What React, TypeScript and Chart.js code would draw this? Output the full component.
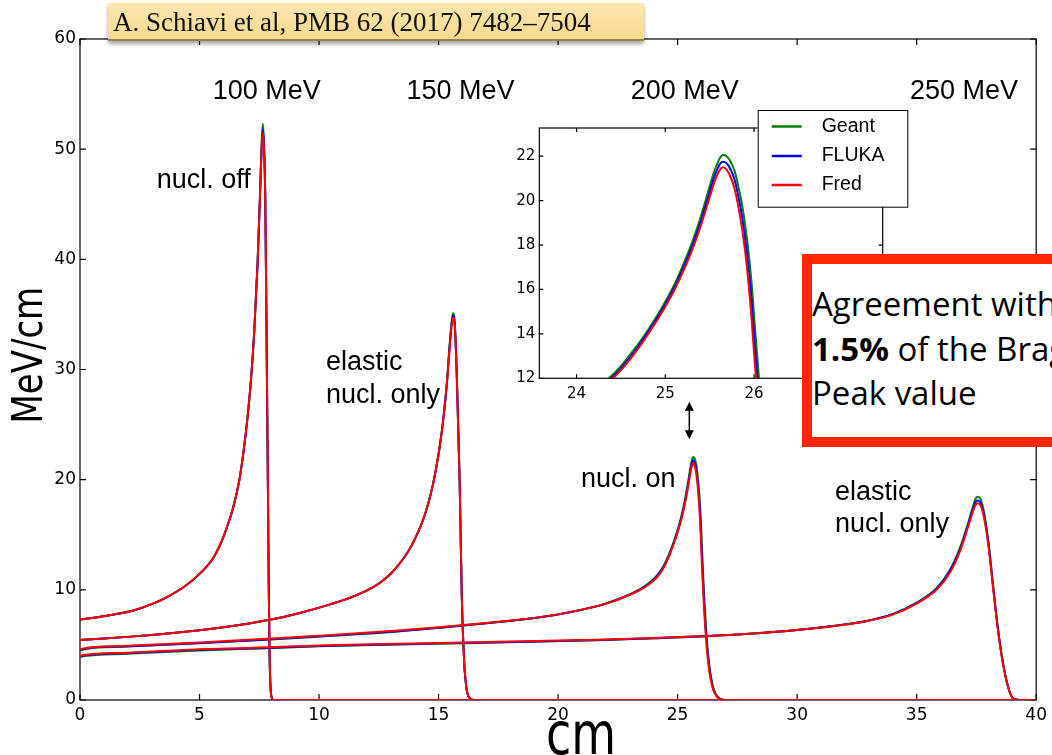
import React, { useEffect, useRef } from "react";
import { Chart, registerables } from "chart.js";

Chart.register(...registerables);

// ---------------- data ----------------
const MODELS = ["Geant", "FLUKA", "Fred"];
const MODEL_COLORS = ["#008000", "#0000FF", "#FF0000"];

const X_TICKS = [0, 5, 10, 15, 20, 25, 30, 35, 40];
const Y_TICKS = [0, 10, 20, 30, 40, 50, 60];
const INSET_X_TICKS = [24, 25, 26, 27];
const INSET_Y_TICKS = [12, 14, 16, 18, 20, 22];

// 100 MeV, nuclear interactions off
const DEPTH_100 = [0, 0.5, 1, 1.5, 2.2, 3, 3.6, 4.4, 5.1, 5.56, 5.8, 6.0, 6.4, 6.67, 6.85, 7.01, 7.15, 7.29, 7.43, 7.53, 7.6, 7.65, 7.7, 7.75, 7.8, 7.85, 7.89, 7.93, 7.97, 8.02, 8.1, 40];
const FRED_100 = [7.3, 7.44, 7.6, 7.8, 8.1, 8.7, 9.3, 10.35, 11.65, 12.85, 13.8, 14.8, 17.4, 20.0, 22.7, 25.7, 29.0, 33.5, 39.7, 45.7, 50.1, 51.5, 49.8, 45.5, 34.2, 22.1, 11.5, 4.2, 1.2, 0.2, 0, 0];
const FLUKA_100 = [7.3, 7.44, 7.6, 7.8, 8.1, 8.7, 9.3, 10.35, 11.65, 12.85, 13.8, 14.8, 17.4, 20.0, 22.7, 25.7, 29.0, 33.5, 39.7, 45.8, 50.3, 51.8, 50.0, 45.6, 34.2, 22.1, 11.5, 4.2, 1.2, 0.2, 0, 0];
const GEANT_100 = [7.3, 7.44, 7.6, 7.8, 8.1, 8.7, 9.3, 10.35, 11.65, 12.85, 13.8, 14.8, 17.4, 20.0, 22.7, 25.7, 29.0, 33.5, 39.8, 46.0, 50.7, 52.3, 50.4, 45.8, 34.3, 22.2, 11.6, 4.2, 1.2, 0.2, 0, 0];

// 150 MeV, elastic nuclear only
const DEPTH_150 = [0, 1, 2, 3, 4, 5, 6, 7, 8, 9.2, 10.5, 11.5, 12.3, 12.7, 13.06, 13.5, 13.89, 14.44, 14.86, 15.14, 15.35, 15.49, 15.6, 15.68, 15.76, 15.88, 15.97, 16.07, 16.18, 16.32, 16.5, 40];
const FRED_150 = [5.45, 5.58, 5.73, 5.9, 6.1, 6.33, 6.6, 6.92, 7.3, 7.9, 8.7, 9.45, 10.3, 10.9, 11.6, 12.75, 14.1, 16.9, 20.55, 24.4, 28.8, 32.6, 34.7, 33.8, 29.5, 20.0, 9.5, 3.5, 0.9, 0.15, 0, 0];
const FLUKA_150 = [5.45, 5.58, 5.73, 5.9, 6.1, 6.33, 6.6, 6.92, 7.3, 7.9, 8.7, 9.45, 10.3, 10.9, 11.6, 12.75, 14.1, 16.9, 20.55, 24.4, 28.8, 32.8, 34.9, 34.0, 29.6, 20.0, 9.5, 3.5, 0.9, 0.15, 0, 0];
const GEANT_150 = [5.45, 5.58, 5.73, 5.9, 6.1, 6.33, 6.6, 6.92, 7.3, 7.9, 8.7, 9.45, 10.3, 10.9, 11.6, 12.75, 14.1, 16.9, 20.6, 24.5, 28.9, 33.0, 35.1, 34.2, 29.8, 20.1, 9.6, 3.5, 0.9, 0.15, 0, 0];

// 200 MeV, nuclear interactions on (also shown in the inset)
const DEPTH_200 = [0, 0.3, 2, 5, 7.8, 10, 13.3, 15, 17, 19.17, 20.56, 21.94, 23.06, 23.6, 24.0, 24.2, 24.39, 24.5, 24.6, 24.71, 24.85, 24.99, 25.1, 25.2, 25.3, 25.39, 25.45, 25.5, 25.55, 25.59, 25.62, 25.65, 25.69, 25.73, 25.78, 25.82, 25.87, 25.92, 25.97, 26.01, 26.06, 26.11, 26.18, 26.25, 26.32, 26.39, 26.53, 26.74, 27.0, 40];
const FRED_200 = [4.6, 4.75, 4.92, 5.22, 5.55, 5.83, 6.3, 6.6, 7.0, 7.5, 8.0, 8.7, 9.6, 10.2, 10.85, 11.3, 11.92, 12.37, 12.84, 13.42, 14.25, 15.15, 15.95, 16.8, 17.75, 18.75, 19.5, 20.15, 20.8, 21.2, 21.42, 21.5, 21.4, 21.12, 20.55, 19.8, 18.6, 17.0, 14.8, 12.6, 10.2, 8.1, 5.8, 4.0, 2.7, 1.8, 0.7, 0.12, 0, 0];
const FLUKA_200 = [4.55, 4.7, 4.88, 5.17, 5.5, 5.78, 6.25, 6.56, 6.97, 7.48, 7.99, 8.7, 9.62, 10.24, 10.92, 11.4, 12.0, 12.45, 12.93, 13.52, 14.35, 15.26, 16.07, 16.95, 17.92, 18.95, 19.72, 20.4, 21.05, 21.45, 21.68, 21.75, 21.68, 21.45, 20.95, 20.25, 19.15, 17.65, 15.6, 13.4, 11.0, 8.8, 6.3, 4.4, 3.0, 2.0, 0.78, 0.13, 0, 0];
const GEANT_200 = [4.5, 4.66, 4.85, 5.14, 5.47, 5.75, 6.22, 6.54, 6.96, 7.48, 8.0, 8.72, 9.66, 10.3, 11.0, 11.5, 12.1, 12.55, 13.05, 13.62, 14.45, 15.38, 16.2, 17.1, 18.1, 19.15, 19.95, 20.65, 21.3, 21.7, 21.95, 22.05, 22.0, 21.8, 21.35, 20.7, 19.7, 18.3, 16.4, 14.3, 11.8, 9.5, 6.9, 4.8, 3.3, 2.2, 0.85, 0.15, 0, 0];

// 250 MeV, elastic nuclear only
const DEPTH_250 = [0, 0.2, 2, 5, 7.8, 10, 13.3, 15, 17, 19.17, 21.67, 24, 26.25, 28, 30, 31.5, 32.8, 34, 35, 35.83, 36.39, 36.81, 37.15, 37.36, 37.45, 37.54, 37.66, 37.78, 37.99, 38.19, 38.4, 38.61, 38.82, 39.03, 39.3, 40];
const FRED_250 = [4.0, 4.1, 4.3, 4.6, 4.78, 4.95, 5.1, 5.18, 5.27, 5.36, 5.48, 5.63, 5.81, 6.02, 6.35, 6.7, 7.1, 7.75, 8.75, 10.0, 11.55, 13.5, 15.7, 17.15, 17.65, 17.85, 17.7, 16.95, 14.2, 10.3, 6.35, 3.3, 1.2, 0.15, 0, 0];
const FLUKA_250 = [3.95, 4.05, 4.25, 4.55, 4.73, 4.9, 5.06, 5.14, 5.23, 5.32, 5.45, 5.61, 5.8, 6.02, 6.36, 6.72, 7.13, 7.8, 8.82, 10.1, 11.7, 13.65, 15.9, 17.4, 17.9, 18.1, 17.95, 17.2, 14.4, 10.45, 6.45, 3.35, 1.22, 0.15, 0, 0];
const GEANT_250 = [3.9, 4.0, 4.2, 4.5, 4.7, 4.87, 5.03, 5.11, 5.2, 5.3, 5.43, 5.6, 5.79, 6.01, 6.36, 6.72, 7.13, 7.8, 8.83, 10.15, 11.8, 13.8, 16.05, 17.6, 18.2, 18.45, 18.3, 17.45, 14.6, 10.6, 6.5, 3.4, 1.25, 0.15, 0, 0];

const CURVES = [
  { depth: DEPTH_100, values: [GEANT_100, FLUKA_100, FRED_100] },
  { depth: DEPTH_150, values: [GEANT_150, FLUKA_150, FRED_150] },
  { depth: DEPTH_200, values: [GEANT_200, FLUKA_200, FRED_200] },
  { depth: DEPTH_250, values: [GEANT_250, FLUKA_250, FRED_250] },
];
const INSET_CURVE = CURVES[2];

// annotations (data coordinates of the main axes)
const TEXT_NOTES = [
  { text: "100 MeV", x: 7.81, y: 54.55, align: "center" },
  { text: "150 MeV", x: 15.92, y: 54.55, align: "center" },
  { text: "200 MeV", x: 25.3, y: 54.55, align: "center" },
  { text: "250 MeV", x: 36.98, y: 54.55, align: "center" },
  { text: "nucl. off", x: 3.21, y: 46.45, align: "left" },
  { text: "elastic", x: 10.29, y: 29.95, align: "left" },
  { text: "nucl. only", x: 10.29, y: 27.0, align: "left" },
  { text: "nucl. on", x: 20.96, y: 19.33, align: "left" },
  { text: "elastic", x: 31.58, y: 18.15, align: "left" },
  { text: "nucl. only", x: 31.58, y: 15.25, align: "left" },
];
const ARROW = { x: 25.49, y1: 27.08, y2: 23.67 };
const X_TITLE = { text: "cm", x: 20.96 };
const Y_TITLE = { text: "MeV/cm", y: 31.3 };

// ---------------- helpers ----------------
function buildDatasets(curves: any[], width: number) {
  const out: any[] = [];
  curves.forEach((c) => {
    MODELS.forEach((m, mi) => {
      out.push({
        label: m,
        data: c.depth.map((x: number, i: number) => ({ x, y: c.values[mi][i] })),
        borderColor: MODEL_COLORS[mi],
        backgroundColor: MODEL_COLORS[mi],
        borderWidth: width,
        pointRadius: 0,
        fill: false,
        cubicInterpolationMode: "monotone",
        order: MODELS.length - 1 - mi,
      });
    });
  });
  return out;
}

function makeFramePlugin(id: string, xTicks: number[], yTicks: number[], tickLen: number, lw: number, fillBg: boolean) {
  return {
    id,
    beforeDatasetsDraw(chart: any) {
      const { ctx, chartArea: a, scales } = chart;
      ctx.save();
      if (fillBg) {
        ctx.fillStyle = "#fff";
        ctx.fillRect(a.left, a.top, a.right - a.left, a.bottom - a.top);
      }
      ctx.strokeStyle = "#000";
      ctx.lineWidth = lw;
      ctx.beginPath();
      xTicks.forEach((v) => {
        const p = scales.x.getPixelForValue(v);
        if (p < a.left - 0.5 || p > a.right + 0.5) return;
        ctx.moveTo(p, a.bottom);
        ctx.lineTo(p, a.bottom - tickLen);
        ctx.moveTo(p, a.top);
        ctx.lineTo(p, a.top + tickLen);
      });
      yTicks.forEach((v) => {
        const p = scales.y.getPixelForValue(v);
        if (p < a.top - 0.5 || p > a.bottom + 0.5) return;
        ctx.moveTo(a.left, p);
        ctx.lineTo(a.left + tickLen, p);
        ctx.moveTo(a.right, p);
        ctx.lineTo(a.right - tickLen, p);
      });
      ctx.stroke();
      ctx.strokeRect(a.left, a.top, a.right - a.left, a.bottom - a.top);
      ctx.restore();
    },
  };
}

const annotationPlugin = {
  id: "notes",
  afterDraw(chart: any) {
    const { ctx, scales, chartArea } = chart;
    const xs = scales.x;
    const ys = scales.y;
    ctx.save();
    ctx.fillStyle = "#000";
    ctx.font = '27px "Liberation Sans", Arial, sans-serif';
    ctx.textBaseline = "alphabetic";
    TEXT_NOTES.forEach((n) => {
      ctx.textAlign = n.align;
      ctx.fillText(n.text, xs.getPixelForValue(n.x), ys.getPixelForValue(n.y));
    });

    // axis titles (slightly stretched vertically like the reference)
    ctx.font = '46px "DejaVu Sans", sans-serif';
    ctx.textAlign = "center";
    ctx.save();
    ctx.translate(xs.getPixelForValue(X_TITLE.x), chart.height - 1);
    ctx.scale(1, 1.28);
    ctx.fillText(X_TITLE.text, 0, 0);
    ctx.restore();

    ctx.font = '34px "DejaVu Sans", sans-serif';
    ctx.save();
    ctx.translate(chartArea.left - 38, ys.getPixelForValue(Y_TITLE.y));
    ctx.rotate(-Math.PI / 2);
    ctx.scale(1, 1.25);
    ctx.fillText(Y_TITLE.text, 0, 0);
    ctx.restore();

    // double-headed arrow
    const ax = xs.getPixelForValue(ARROW.x);
    const top = ys.getPixelForValue(ARROW.y1);
    const bot = ys.getPixelForValue(ARROW.y2);
    ctx.strokeStyle = "#000";
    ctx.lineWidth = 1.5;
    ctx.beginPath();
    ctx.moveTo(ax, top + 6);
    ctx.lineTo(ax, bot - 6);
    ctx.stroke();
    ctx.beginPath();
    ctx.moveTo(ax, top);
    ctx.lineTo(ax - 4.5, top + 9);
    ctx.lineTo(ax + 4.5, top + 9);
    ctx.closePath();
    ctx.moveTo(ax, bot);
    ctx.lineTo(ax - 4.5, bot - 9);
    ctx.lineTo(ax + 4.5, bot - 9);
    ctx.closePath();
    ctx.fill();
    ctx.restore();
  },
};

const LEGEND_BOX = { x: 277.7, y: 10, w: 149.6, h: 96.7 };
const LEGEND_ROWS = [26.5, 56, 85];

const insetLegendPlugin = {
  id: "insetLegend",
  afterDraw(chart: any) {
    const ctx = chart.ctx;
    const b = LEGEND_BOX;
    ctx.save();
    ctx.fillStyle = "#fff";
    ctx.fillRect(b.x, b.y, b.w, b.h);
    ctx.strokeStyle = "#000";
    ctx.lineWidth = 1;
    ctx.strokeRect(b.x + 0.5, b.y + 0.5, b.w, b.h);
    MODELS.forEach((m, i) => {
      const yy = LEGEND_ROWS[i];
      ctx.strokeStyle = MODEL_COLORS[i];
      ctx.lineWidth = 2.5;
      ctx.beginPath();
      ctx.moveTo(b.x + 14, yy);
      ctx.lineTo(b.x + 44, yy);
      ctx.stroke();
      ctx.fillStyle = "#000";
      ctx.font = '19.5px "Liberation Sans", Arial, sans-serif';
      ctx.textAlign = "left";
      ctx.textBaseline = "middle";
      ctx.fillText(m, b.x + 64, yy);
    });
    ctx.restore();
  },
};

export default function App() {
  const mainRef = useRef<HTMLCanvasElement | null>(null);
  const insetRef = useRef<HTMLCanvasElement | null>(null);

  useEffect(() => {
    const main = new Chart(mainRef.current as HTMLCanvasElement, {
      type: "line",
      data: { datasets: buildDatasets(CURVES, 2) },
      options: {
        responsive: false,
        animation: false,
        devicePixelRatio: 1,
        layout: { padding: { left: 0, top: 39, right: 12, bottom: 0 } },
        plugins: { legend: { display: false }, tooltip: { enabled: false } },
        scales: {
          x: {
            type: "linear",
            min: 0,
            max: 40,
            afterBuildTicks: (s: any) => {
              s.ticks = X_TICKS.map((v) => ({ value: v }));
            },
            afterFit: (s: any) => {
              s.height = 55;
            },
            grid: { display: false, drawTicks: false },
            border: { display: false },
            ticks: { font: { family: "DejaVu Sans", size: 17 }, color: "#000", padding: 5, maxRotation: 0, autoSkip: false },
            title: { display: false },
          },
          y: {
            type: "linear",
            min: 0,
            max: 60,
            afterBuildTicks: (s: any) => {
              s.ticks = Y_TICKS.map((v) => ({ value: v }));
            },
            afterFit: (s: any) => {
              s.width = 80;
            },
            grid: { display: false, drawTicks: false },
            border: { display: false },
            ticks: { font: { family: "DejaVu Sans", size: 17 }, color: "#000", padding: 4, autoSkip: false },
            title: { display: false },
          },
        },
      } as any,
      plugins: [makeFramePlugin("mainFrame", X_TICKS, Y_TICKS, 6, 1.2, false), annotationPlugin],
    });

    const inset = new Chart(insetRef.current as HTMLCanvasElement, {
      type: "line",
      data: { datasets: buildDatasets([INSET_CURVE], 2) },
      options: {
        responsive: false,
        animation: false,
        devicePixelRatio: 1,
        layout: { padding: { left: 0, top: 28, right: 37.3, bottom: 0 } },
        plugins: { legend: { display: false }, tooltip: { enabled: false } },
        scales: {
          x: {
            type: "linear",
            min: 23.58,
            max: 27.45,
            afterBuildTicks: (s: any) => {
              s.ticks = INSET_X_TICKS.map((v) => ({ value: v }));
            },
            afterFit: (s: any) => {
              s.height = 41.7;
            },
            grid: { display: false, drawTicks: false },
            border: { display: false },
            ticks: { font: { family: "DejaVu Sans", size: 15 }, color: "#000", padding: 7, maxRotation: 0, autoSkip: false },
          },
          y: {
            type: "linear",
            min: 12,
            max: 23.27,
            afterBuildTicks: (s: any) => {
              s.ticks = INSET_Y_TICKS.map((v) => ({ value: v }));
            },
            afterFit: (s: any) => {
              s.width = 59.3;
            },
            grid: { display: false, drawTicks: false },
            border: { display: false },
            ticks: { font: { family: "DejaVu Sans", size: 15 }, color: "#000", padding: 4, autoSkip: false },
          },
        },
      } as any,
      plugins: [makeFramePlugin("insetFrame", INSET_X_TICKS, INSET_Y_TICKS, 4, 1.2, true), insetLegendPlugin],
    });

    return () => {
      main.destroy();
      inset.destroy();
    };
  }, []);

  return (
    <div style={{ position: "absolute", left: 0, top: 0, width: 1052, height: 755, overflow: "hidden", background: "#fff" }}>
      <canvas ref={mainRef} width={1052} height={755} style={{ position: "absolute", left: 0, top: 0, width: 1052, height: 755 }} />
      <canvas ref={insetRef} width={440} height={320} style={{ position: "absolute", left: 480, top: 100, width: 440, height: 320 }} />
      <div
        style={{
          position: "absolute",
          left: 108,
          top: 3,
          width: 536,
          height: 38,
          boxSizing: "border-box",
          background: "linear-gradient(#FBE6AE, #F6D98F)",
          borderBottom: "2px solid #9C7E4E",
          boxShadow: "0 3px 4px rgba(0,0,0,0.35)",
          fontFamily: '"Liberation Serif", "Times New Roman", serif',
          fontSize: 27,
          lineHeight: "36px",
          paddingTop: 1,
          paddingLeft: 5,
          color: "#111",
          whiteSpace: "nowrap",
        }}
      >
        A. Schiavi et al, PMB 62 (2017) 7482–7504
      </div>
      <div
        style={{
          position: "absolute",
          left: 802,
          top: 254,
          width: 290,
          height: 193,
          boxSizing: "border-box",
          border: "10px solid #FF2600",
          background: "#fff",
          fontFamily: '"Open Sans", sans-serif',
          fontSize: 33,
          lineHeight: "44.7px",
          paddingTop: 18,
          whiteSpace: "nowrap",
          color: "#000",
        }}
      >
        <div>Agreement within</div>
        <div>
          <b>1.5%</b> of the Bragg
        </div>
        <div>Peak value</div>
      </div>
    </div>
  );
}
